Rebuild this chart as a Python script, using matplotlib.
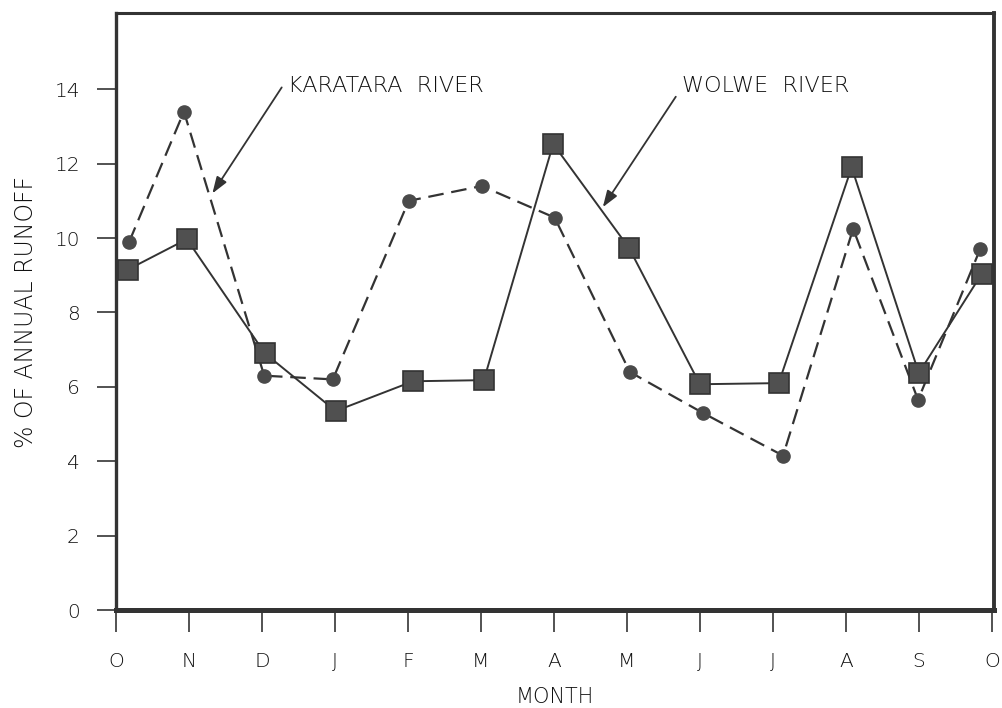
import matplotlib
matplotlib.use("Agg")
import matplotlib.pyplot as plt

# -- data (x in month units from the first O)
months = ["O", "N", "D", "J", "F", "M", "A", "M", "J", "J", "A", "S", "O"]

karatara_x = [0.18, 0.93, 2.03, 2.97, 4.01, 5.01, 6.01, 7.04, 8.04, 9.14, 10.1, 10.99, 11.84]
karatara_y = [9.9, 13.4, 6.3, 6.2, 11.0, 11.4, 10.55, 6.4, 5.3, 4.15, 10.25, 5.65, 9.7]

wolwe_x = [0.16, 0.97, 2.04, 3.01, 4.07, 5.04, 5.99, 7.03, 8.0, 9.08, 10.08, 11.0, 11.86]
wolwe_y = [9.15, 9.97, 6.9, 5.35, 6.15, 6.18, 12.53, 9.73, 6.07, 6.1, 11.9, 6.37, 9.03]

yticks = [0, 2, 4, 6, 8, 10, 12, 14]

plt.rcParams['font.family'] = ['DejaVu Sans']
plt.rcParams['font.weight'] = 'light'
plt.rcParams['axes.labelweight'] = 'light'
ink = '#111111'

fig = plt.figure(figsize=(10.03, 7.08), dpi=100)
ax = fig.add_axes([0.1157, 0.1384, 0.8753, 0.8432])

#-- Karatara: dashed with dots
ax.plot(karatara_x, karatara_y, color='#333333', lw=1.6, dashes=(7, 3.5),
        marker='o', ms=9.5, mfc='#4a4a4a', mec='#4a4a4a', zorder=3)
#-- Wolwe: solid with squares
ax.plot(wolwe_x, wolwe_y, color='#333333', lw=1.4,
        marker='s', ms=15, mfc='#505050', mec='#333333', mew=1.2, zorder=4)

ax.set_xlim(0, 12.03)
ax.set_ylim(0, 16.05)

ax.set_xticks(range(len(months)))
ax.set_xticklabels(months)
ax.set_yticks(yticks)

for side, w in [('left', 2.4), ('bottom', 3.6), ('top', 2.2), ('right', 2.8)]:
    ax.spines[side].set_linewidth(w)
    ax.spines[side].set_color('#333333')

ax.tick_params(axis='both', direction='out', color='#444444', width=1.3,
               labelcolor=ink, labelsize=14.5)
ax.tick_params(axis='x', length=16, pad=14)
ax.tick_params(axis='y', length=14, pad=12)

ax.set_xlabel('MONTH', fontsize=15, color=ink, labelpad=12)
ax.set_ylabel('% OF ANNUAL RUNOFF', fontsize=17, color=ink, labelpad=12)

#-- Labels with arrows
arrow = dict(arrowstyle='-|>,head_length=1.0,head_width=0.35', color='#333333',
             lw=1.3, shrinkA=0, shrinkB=0)
ax.annotate('', xy=(1.32, 11.2), xytext=(2.27, 14.05), arrowprops=arrow)
ax.text(2.36, 14.1, 'KARATARA  RIVER', fontsize=16, color=ink, va='center')
ax.annotate('', xy=(6.67, 10.83), xytext=(7.67, 13.8), arrowprops=arrow)
ax.text(7.75, 14.1, 'WOLWE  RIVER', fontsize=16, color=ink, va='center')

plt.savefig('out.png', dpi=100)
